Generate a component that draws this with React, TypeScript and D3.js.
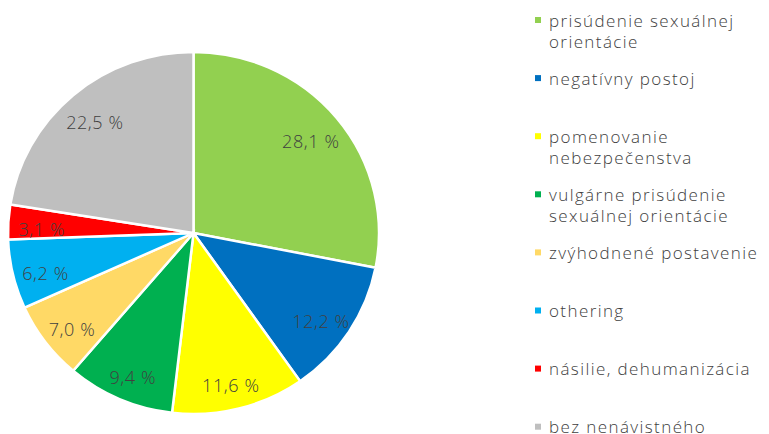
import React from "react";
import * as d3 from "d3";

const categories = [
  "prisúdenie sexuálnej orientácie",
  "negatívny postoj",
  "pomenovanie nebezpečenstva",
  "vulgárne prisúdenie sexuálnej orientácie",
  "zvýhodnené postavenie",
  "othering",
  "násilie, dehumanizácia",
  "bez nenávistného",
];
const legendLines = [
  ["prisúdenie sexuálnej", "orientácie"],
  ["negatívny postoj"],
  ["pomenovanie", "nebezpečenstva"],
  ["vulgárne prisúdenie", "sexuálnej orientácie"],
  ["zvýhodnené postavenie"],
  ["othering"],
  ["násilie, dehumanizácia"],
  ["bez nenávistného"],
];
const values = [28.1, 12.2, 11.6, 9.4, 7.0, 6.2, 3.1, 22.5];
const colors = ["#92D050", "#0070C0", "#FFFF00", "#00B050", "#FFD966", "#00B0F0", "#FF0000", "#BFBFBF"];

const W = 769;
const H = 434;
const cx = 193.5;
const cy = 233;
const rx = 185.5;
const ry = 181;
const FONT = "'Open Sans', sans-serif";

export default function App() {
  const pie = d3.pie<number>().sort(null).value((d) => d);
  const arcs = pie(values);
  const arc = d3.arc<d3.PieArcDatum<number>>().innerRadius(0).outerRadius(rx);
  const labelArc = d3.arc<d3.PieArcDatum<number>>().innerRadius(152).outerRadius(152);
  const sy = ry / rx;
  const fmt = (v: number) => v.toFixed(1).replace(".", ",") + " %";

  return (
    <svg width={W} height={H} style={{ position: "absolute", left: 0, top: 0, background: "#fff" }}>
      <g transform={`translate(${cx},${cy}) scale(1,${sy})`}>
        {arcs.map((a, i) => (
          <path key={i} d={arc(a) || ""} fill={colors[i]} stroke="#fff" strokeWidth={2.5} />
        ))}
      </g>
      <g transform={`translate(${cx},${cy + 5})`}>
        {arcs.map((a, i) => {
          const [x, y] = labelArc.centroid(a);
          return (
            <text key={i} x={x} y={y} textAnchor="middle" dominantBaseline="central"
              fontFamily={FONT} fontWeight={300} fontSize={18} letterSpacing={0.6} fill="#404040">
              {fmt(values[i])}
            </text>
          );
        })}
      </g>
      <g>
        {categories.map((c, i) => {
          const y0 = 20 + i * 58.1;
          return (
            <g key={c}>
              <rect x={535} y={y0 - 3} width={6} height={6} fill={colors[i]} />
              {legendLines[i].map((ln, j) => (
                <text key={j} x={549} y={y0 + j * 21.5} dominantBaseline="central"
                  fontFamily={FONT} fontWeight={300} fontSize={17} letterSpacing={1.4} fill="#404040">
                  {ln}
                </text>
              ))}
            </g>
          );
        })}
      </g>
    </svg>
  );
}
